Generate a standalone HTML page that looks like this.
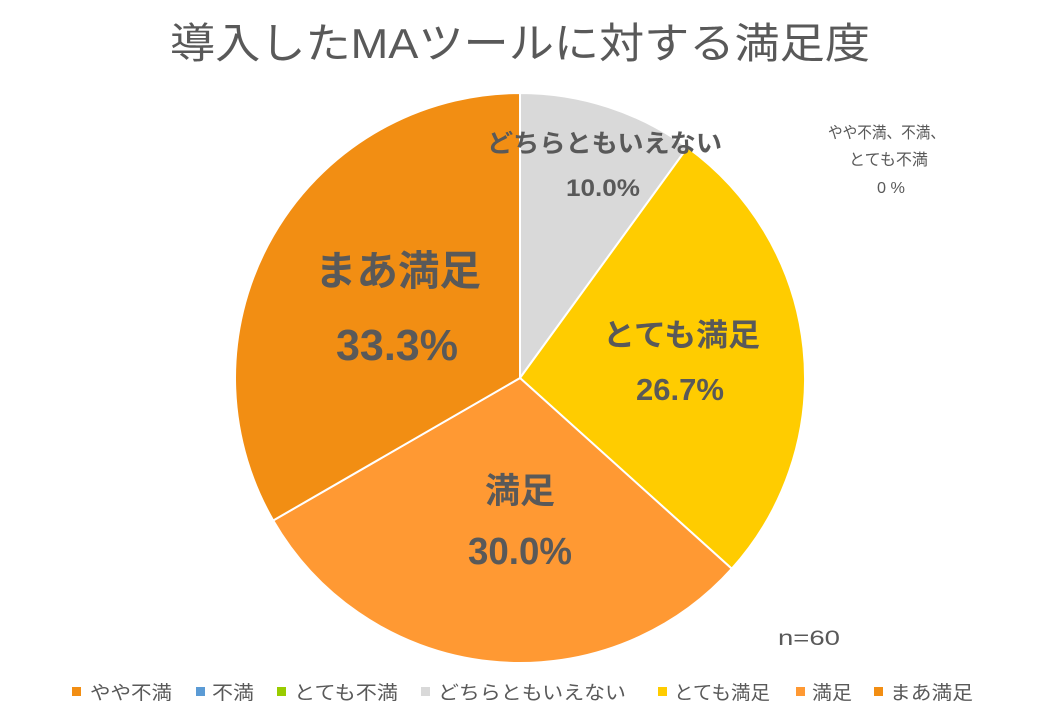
<!DOCTYPE html>
<html><head><meta charset="utf-8"><style>
body{margin:0;background:#fff}
svg{display:block}
text{font-family:"Liberation Sans","Noto Sans CJK JP",sans-serif;fill:#595959}
.b{font-weight:bold}
</style></head><body>
<svg width="1040" height="720" viewBox="0 0 1040 720">
<text x="170" y="58" font-size="42" textLength="700" lengthAdjust="spacingAndGlyphs">導入したMAツールに対する満足度</text>
<g stroke="#fff" stroke-width="2">
<path d="M520,378 L520,93 A285,285 0 0 1 687.5,147.4 Z" fill="#D9D9D9"/>
<path d="M520,378 L687.5,147.4 A285,285 0 0 1 731.8,568.7 Z" fill="#FFCC00"/>
<path d="M520,378 L731.8,568.7 A285,285 0 0 1 273.2,520.5 Z" fill="#FF9933"/>
<path d="M520,378 L273.2,520.5 A285,285 0 0 1 520,93 Z" fill="#F28E13"/>
</g>
<g class="b">
<text x="487" y="152" font-size="25" textLength="235" lengthAdjust="spacingAndGlyphs">どちらともいえない</text>
<text x="566" y="196" font-size="24" textLength="74" lengthAdjust="spacingAndGlyphs">10.0%</text>
<text x="603" y="346" font-size="31" textLength="157" lengthAdjust="spacingAndGlyphs">とても満足</text>
<text x="636" y="400" font-size="31" textLength="88" lengthAdjust="spacingAndGlyphs">26.7%</text>
<text x="485" y="503" font-size="35" textLength="70" lengthAdjust="spacingAndGlyphs">満足</text>
<text x="468" y="564" font-size="38" textLength="104" lengthAdjust="spacingAndGlyphs">30.0%</text>
<text x="315" y="285" font-size="41" textLength="166" lengthAdjust="spacingAndGlyphs">まあ満足</text>
<text x="336" y="360" font-size="44" textLength="122" lengthAdjust="spacingAndGlyphs">33.3%</text>
</g>
<text x="828" y="138" font-size="16" textLength="117" lengthAdjust="spacingAndGlyphs">やや不満、不満、</text>
<text x="849" y="165" font-size="16" textLength="79" lengthAdjust="spacingAndGlyphs">とても不満</text>
<text x="877" y="193" font-size="16" textLength="28" lengthAdjust="spacingAndGlyphs">0 %</text>
<text x="778" y="645" font-size="21" textLength="62" lengthAdjust="spacingAndGlyphs">n=60</text>
<g font-size="19">
<rect x="72" y="687" width="9" height="9" fill="#F28E13"/><text x="90" y="699" textLength="82" lengthAdjust="spacingAndGlyphs">やや不満</text>
<rect x="196" y="687" width="9" height="9" fill="#5B9BD5"/><text x="212" y="699" textLength="42" lengthAdjust="spacingAndGlyphs">不満</text>
<rect x="277" y="687" width="9" height="9" fill="#99CC00"/><text x="294" y="699" textLength="104" lengthAdjust="spacingAndGlyphs">とても不満</text>
<rect x="421" y="687" width="9" height="9" fill="#D9D9D9"/><text x="438" y="699" textLength="188" lengthAdjust="spacingAndGlyphs">どちらともいえない</text>
<rect x="658" y="687" width="9" height="9" fill="#FFCC00"/><text x="674" y="699" textLength="96" lengthAdjust="spacingAndGlyphs">とても満足</text>
<rect x="796" y="687" width="9" height="9" fill="#FF9933"/><text x="812" y="699" textLength="40" lengthAdjust="spacingAndGlyphs">満足</text>
<rect x="874" y="687" width="9" height="9" fill="#F28E13"/><text x="890" y="699" textLength="83" lengthAdjust="spacingAndGlyphs">まあ満足</text>
</g>
</svg>
</body></html>
